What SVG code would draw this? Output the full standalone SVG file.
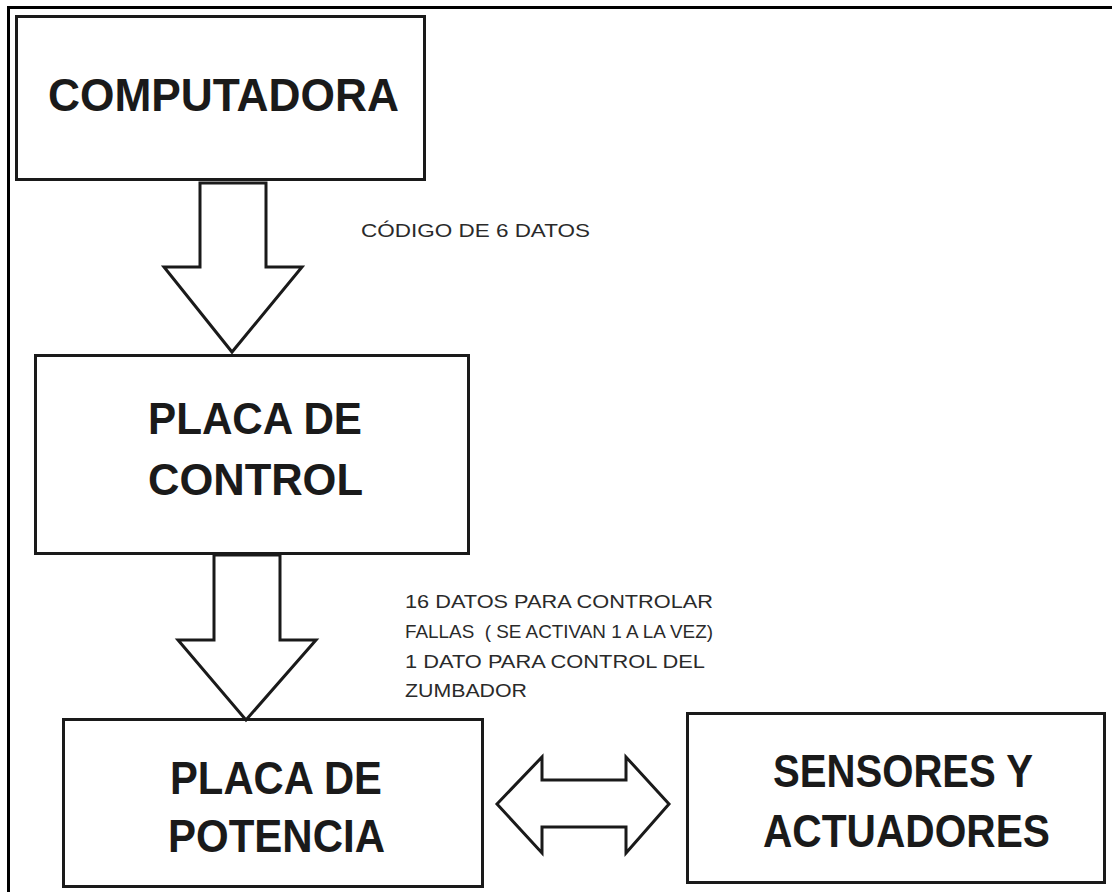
<svg xmlns="http://www.w3.org/2000/svg" width="1112" height="892" viewBox="0 0 1112 892">
<style>
.box{fill:#fff;stroke:#1a1a1a;stroke-width:3}
.arr{fill:#fff;stroke:#1a1a1a;stroke-width:3;stroke-linejoin:miter}
.big{font-family:"Liberation Sans",Arial,sans-serif;font-weight:bold;fill:#1a1a1a}
.small{font-family:"Liberation Sans",Arial,sans-serif;font-weight:normal;fill:#2a2a2a;font-size:19px}
</style>
<rect width="1112" height="892" fill="#fff"/>
<path d="M8.5,892 V7.5 H1112" fill="none" stroke="#000" stroke-width="3"/>
<g id="computadora">
<rect class="box" x="16.5" y="16.5" width="408" height="163"/>
<text class="big" x="48" y="111" font-size="46" textLength="351" lengthAdjust="spacingAndGlyphs">COMPUTADORA</text>
</g>
<g id="placa-control">
<rect class="box" x="35.5" y="355.5" width="433" height="198"/>
<text class="big" x="148" y="434" font-size="45" textLength="214" lengthAdjust="spacingAndGlyphs">PLACA DE</text>
<text class="big" x="148" y="495" font-size="45" textLength="215" lengthAdjust="spacingAndGlyphs">CONTROL</text>
</g>
<g id="placa-potencia">
<rect class="box" x="63.5" y="719.5" width="419" height="167"/>
<text class="big" x="170" y="794" font-size="47" textLength="212" lengthAdjust="spacingAndGlyphs">PLACA DE</text>
<text class="big" x="168" y="852" font-size="47" textLength="217" lengthAdjust="spacingAndGlyphs">POTENCIA</text>
</g>
<g id="sensores">
<rect class="box" x="687.5" y="713.5" width="417" height="169"/>
<text class="big" x="773" y="787" font-size="47" textLength="260" lengthAdjust="spacingAndGlyphs">SENSORES Y</text>
<text class="big" x="763" y="847" font-size="47" textLength="287" lengthAdjust="spacingAndGlyphs">ACTUADORES</text>
</g>
<g id="connectors">
<polygon class="arr" points="200,183 266,183 266,267 302,267 232,352 164,267 200,267"/>
<polygon class="arr" points="214,555 280,555 280,640 316,640 246,720 178,640 214,640"/>
<polygon class="arr" points="497,804 542,757 542,780 626,780 626,757 669,804 626,853 626,827 542,827 542,853"/>
<text class="small" x="361" y="237" textLength="229" lengthAdjust="spacingAndGlyphs">CÓDIGO DE 6 DATOS</text>
<text class="small" x="405" y="608" font-size="21" textLength="308" lengthAdjust="spacingAndGlyphs">16 DATOS PARA CONTROLAR</text>
<text class="small" x="405" y="638" font-size="21" textLength="308" lengthAdjust="spacingAndGlyphs" xml:space="preserve">FALLAS  ( SE ACTIVAN 1 A LA VEZ)</text>
<text class="small" x="405" y="668" font-size="21" textLength="300" lengthAdjust="spacingAndGlyphs">1 DATO PARA CONTROL DEL</text>
<text class="small" x="405" y="697" font-size="21" textLength="122" lengthAdjust="spacingAndGlyphs">ZUMBADOR</text>
</g>
</svg>
